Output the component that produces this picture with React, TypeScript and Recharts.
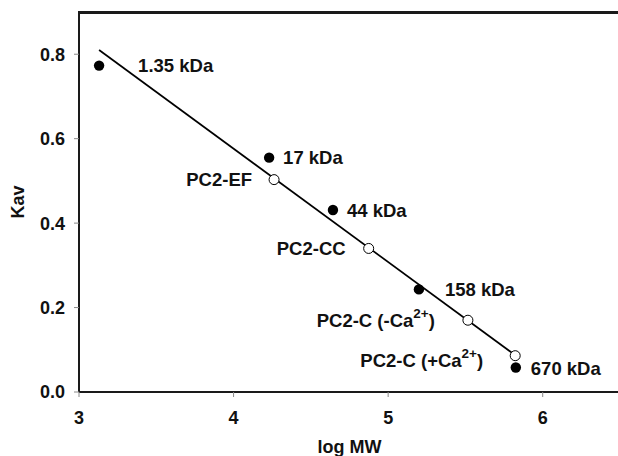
import { Scatter, ScatterChart, XAxis, YAxis } from "recharts";

// protein standards (filled) and PC2 constructs (open)
const STD_NAMES = ["1.35 kDa", "17 kDa", "44 kDa", "158 kDa", "670 kDa"];
const STD_LOGMW = [3.13, 4.23, 4.643, 5.199, 5.826];
const STD_KAV = [0.773, 0.555, 0.431, 0.243, 0.058];

const PC2_NAMES = ["PC2-EF", "PC2-CC", "PC2-C (-Ca2+)", "PC2-C (+Ca2+)"];
const PC2_LOGMW = [4.262, 4.874, 5.516, 5.822];
const PC2_KAV = [0.503, 0.34, 0.17, 0.086];

// fitted calibration line end points
const FIT_LOGMW = [3.13, 5.83];
const FIT_KAV = [0.81, 0.085];

const X_DOMAIN = [3, 6.5];
const Y_DOMAIN = [0, 0.9];
const X_TICKS = [3, 4, 5, 6];
const Y_TICKS = [0, 0.2, 0.4, 0.6, 0.8];

// label placement relative to its marker (px)
const LABEL_POS: Record<string, { dx: number; dy: number }> = {
  "1.35 kDa": { dx: 39, dy: 0 },
  "17 kDa": { dx: 14, dy: 0 },
  "44 kDa": { dx: 14, dy: 0 },
  "158 kDa": { dx: 26, dy: 0 },
  "670 kDa": { dx: 15, dy: 1 },
  "PC2-EF": { dx: -22, dy: 0 },
  "PC2-CC": { dx: -23, dy: 0 },
  "PC2-C (-Ca2+)": { dx: -33, dy: 0 },
  "PC2-C (+Ca2+)": { dx: -32, dy: 4 },
};

const FONT = "'Liberation Sans', Arial, sans-serif";
const INK = "#111";
const FRAME = { stroke: "#1a1a1a", strokeWidth: 2 };

const standards = STD_NAMES.map((name, i) => ({
  name,
  x: STD_LOGMW[i],
  y: STD_KAV[i],
}));
const constructs = PC2_NAMES.map((name, i) => ({
  name,
  x: PC2_LOGMW[i],
  y: PC2_KAV[i],
}));
const fit = FIT_LOGMW.map((x, i) => ({ x, y: FIT_KAV[i] }));

function LabelText({ name, x, y }: { name: string; x: number; y: number }) {
  const pos = LABEL_POS[name] ?? { dx: 12, dy: 0 };
  const m = name.match(/^(.*Ca)(2\+)(\))$/);
  return (
    <text
      x={x + pos.dx}
      y={y + pos.dy}
      textAnchor={pos.dx < 0 ? "end" : "start"}
      dominantBaseline="central"
      fontFamily={FONT}
      fontWeight="bold"
      fontSize={18.5}
      fill={INK}
    >
      {m ? (
        <>
          <tspan>{m[1]}</tspan>
          <tspan fontSize={13.5} dy={-7}>
            {m[2]}
          </tspan>
          <tspan dy={7}>{m[3]}</tspan>
        </>
      ) : (
        name
      )}
    </text>
  );
}

function Marker(props: unknown, open: boolean) {
  const p = props as { cx: number; cy: number; payload: { name: string } };
  return (
    <g>
      <circle
        cx={p.cx}
        cy={p.cy}
        r={open ? 5 : 5.2}
        fill={open ? "#fff" : "#000"}
        stroke="#000"
        strokeWidth={open ? 1 : 0}
      />
      <LabelText name={p.payload.name} x={p.cx} y={p.cy} />
    </g>
  );
}

export default function App() {
  const tick = { fontSize: 18, fontWeight: "bold", fill: INK, fontFamily: FONT };
  return (
    <div
      style={{
        position: "absolute",
        left: 0,
        top: 0,
        width: 618,
        height: 456,
        overflow: "hidden",
        background: "#fff",
      }}
    >
      <ScatterChart
        width={622}
        height={456}
        margin={{ top: 12, right: 2, bottom: 0, left: 0 }}
      >
        <XAxis
          dataKey="x"
          type="number"
          domain={X_DOMAIN}
          ticks={X_TICKS}
          height={64}
          axisLine={FRAME}
          tickLine={{ stroke: "#888" }}
          tickSize={5}
          tickMargin={14}
          tick={tick}
          label={{
            value: "log MW",
            position: "insideBottom",
            offset: 3,
            fontSize: 18,
            fontWeight: "bold",
            fill: INK,
            fontFamily: FONT,
          }}
        />
        <YAxis
          dataKey="y"
          type="number"
          domain={Y_DOMAIN}
          ticks={Y_TICKS}
          width={79}
          axisLine={FRAME}
          tickLine={{ stroke: "#888" }}
          tickSize={5}
          tickMargin={9}
          tick={tick}
          tickFormatter={(v: number) => v.toFixed(1)}
          label={{
            value: "Kav",
            angle: -90,
            position: "insideLeft",
            offset: 18,
            fontSize: 18,
            fontWeight: "bold",
            fill: INK,
            fontFamily: FONT,
            style: { textAnchor: "middle" },
          }}
        />
        <Scatter
          data={fit}
          line={{ stroke: "#000", strokeWidth: 1.7 }}
          shape={() => <g />}
          isAnimationActive={false}
        />
        <Scatter
          data={standards}
          shape={(p: unknown) => Marker(p, false)}
          isAnimationActive={false}
        />
        <Scatter
          data={constructs}
          shape={(p: unknown) => Marker(p, true)}
          isAnimationActive={false}
        />
      </ScatterChart>
      {/* top edge of the plot frame, painted above the chart */}
      <div
        style={{
          position: "absolute",
          zIndex: 5,
          left: 78,
          top: 11,
          width: 540,
          height: 3,
          background: "#1a1a1a",
        }}
      />
    </div>
  );
}
